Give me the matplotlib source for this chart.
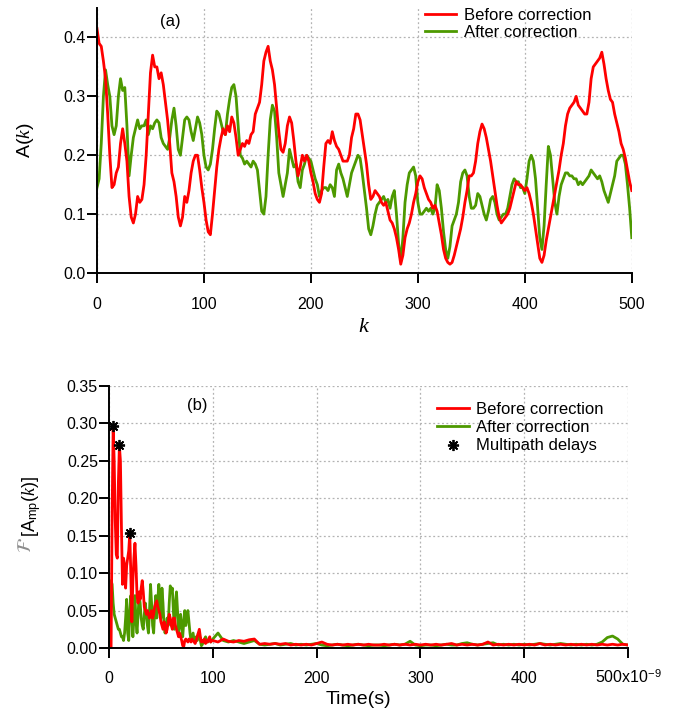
import numpy as np
from matplotlib import pyplot as plt
import matplotlib.ticker as mticker
from matplotlib.lines import Line2D

plt.rcParams['font.family'] = ['Liberation Sans', 'DejaVu Sans']
plt.rcParams['mathtext.fontset'] = 'custom'
plt.rcParams['mathtext.rm'] = 'Liberation Sans'
plt.rcParams['mathtext.sf'] = 'Liberation Sans'
plt.rcParams['mathtext.it'] = 'Liberation Serif:italic'

# DATA (a) : A(k), one value every 2 samples of k, k = 0 .. 500
before_a = [
    0.415, 0.39, 0.385, 0.36, 0.33, 0.27, 0.2, 0.145, 0.15, 0.17,
    0.18, 0.22, 0.245, 0.22, 0.19, 0.13, 0.095, 0.085, 0.1, 0.13,
    0.12, 0.125, 0.15, 0.2, 0.27, 0.34, 0.37, 0.35, 0.35, 0.33,
    0.34, 0.32, 0.29, 0.26, 0.22, 0.17, 0.155, 0.13, 0.095, 0.08,
    0.095, 0.13, 0.12, 0.14, 0.17, 0.19, 0.2, 0.2, 0.175, 0.145,
    0.12, 0.09, 0.07, 0.065, 0.1, 0.14, 0.18, 0.21, 0.23, 0.245,
    0.235, 0.25, 0.24, 0.265, 0.255, 0.23, 0.2, 0.21, 0.22, 0.215,
    0.225, 0.22, 0.235, 0.24, 0.27, 0.28, 0.29, 0.32, 0.36, 0.375,
    0.385, 0.36, 0.345, 0.32, 0.28, 0.24, 0.21, 0.205, 0.22, 0.25,
    0.265, 0.255, 0.225, 0.19, 0.165, 0.18, 0.2, 0.19, 0.2, 0.19,
    0.17, 0.155, 0.135, 0.125, 0.12, 0.135, 0.18, 0.22, 0.225, 0.22,
    0.24, 0.225, 0.215, 0.21, 0.2, 0.19, 0.19, 0.19, 0.2, 0.23,
    0.245, 0.27, 0.27, 0.26, 0.235, 0.21, 0.185, 0.15, 0.125, 0.13,
    0.14, 0.135, 0.13, 0.12, 0.115, 0.12, 0.105, 0.09, 0.085, 0.075,
    0.06, 0.04, 0.015, 0.03, 0.06, 0.075, 0.085, 0.1, 0.12, 0.135,
    0.155, 0.165, 0.16, 0.145, 0.135, 0.125, 0.12, 0.11, 0.115, 0.105,
    0.085, 0.065, 0.04, 0.025, 0.018, 0.015, 0.018, 0.03, 0.045, 0.06,
    0.075, 0.095, 0.12, 0.14, 0.165, 0.165, 0.17, 0.19, 0.22, 0.24,
    0.253, 0.245, 0.23, 0.21, 0.19, 0.165, 0.14, 0.115, 0.095, 0.085,
    0.09, 0.095, 0.1, 0.11, 0.125, 0.14, 0.155, 0.15, 0.15, 0.145,
    0.14, 0.145, 0.135, 0.12, 0.1, 0.075, 0.05, 0.025, 0.018, 0.03,
    0.055, 0.075, 0.095, 0.115, 0.135, 0.155, 0.175, 0.2, 0.22, 0.25,
    0.27, 0.28, 0.285, 0.29, 0.3, 0.285, 0.28, 0.275, 0.27, 0.27,
    0.29, 0.33, 0.35, 0.355, 0.36, 0.365, 0.375, 0.355, 0.33, 0.31,
    0.295, 0.29, 0.27, 0.255, 0.24, 0.22, 0.21, 0.195, 0.175, 0.155,
    0.14,
]
after_a = [
    0.145, 0.16, 0.22, 0.3, 0.345, 0.32, 0.3, 0.25, 0.235, 0.25,
    0.3, 0.33, 0.31, 0.315, 0.25, 0.165, 0.2, 0.23, 0.245, 0.26,
    0.245, 0.25, 0.25, 0.26, 0.235, 0.25, 0.245, 0.255, 0.26, 0.255,
    0.23, 0.22, 0.215, 0.21, 0.23, 0.26, 0.28, 0.25, 0.21, 0.2,
    0.23, 0.26, 0.265, 0.26, 0.24, 0.225, 0.245, 0.265, 0.255, 0.235,
    0.2, 0.18, 0.175, 0.185, 0.21, 0.245, 0.275, 0.27, 0.255, 0.24,
    0.235, 0.27, 0.295, 0.315, 0.32, 0.3, 0.25, 0.2, 0.195, 0.185,
    0.19, 0.185, 0.18, 0.19, 0.185, 0.175, 0.14, 0.105, 0.1, 0.13,
    0.2, 0.26, 0.285, 0.275, 0.23, 0.17, 0.15, 0.13, 0.15, 0.17,
    0.21, 0.195, 0.18, 0.185, 0.155, 0.145, 0.175, 0.185, 0.2, 0.195,
    0.19, 0.175, 0.16, 0.15, 0.13, 0.14, 0.145, 0.145, 0.14, 0.15,
    0.145, 0.13, 0.175, 0.185, 0.17, 0.16, 0.145, 0.13, 0.15, 0.17,
    0.18, 0.19, 0.2, 0.195, 0.17, 0.14, 0.11, 0.075, 0.065, 0.08,
    0.1, 0.115, 0.12, 0.125, 0.13, 0.12, 0.125, 0.11, 0.13, 0.14,
    0.1, 0.05, 0.02, 0.06, 0.12, 0.15, 0.17, 0.175, 0.18, 0.165,
    0.12, 0.1, 0.1, 0.105, 0.11, 0.105, 0.11, 0.1, 0.11, 0.15,
    0.14, 0.11, 0.07, 0.04, 0.025, 0.045, 0.08, 0.09, 0.1, 0.12,
    0.155, 0.17, 0.175, 0.165, 0.13, 0.11, 0.11, 0.115, 0.135, 0.13,
    0.115, 0.1, 0.09, 0.105, 0.125, 0.13, 0.12, 0.1, 0.09, 0.095,
    0.1, 0.1, 0.11, 0.13, 0.15, 0.16, 0.155, 0.155, 0.145, 0.145,
    0.135, 0.16, 0.19, 0.2, 0.19, 0.16, 0.11, 0.06, 0.04, 0.08,
    0.15, 0.215, 0.2, 0.16, 0.12, 0.1, 0.13, 0.15, 0.16, 0.17,
    0.17, 0.165, 0.165, 0.16, 0.16, 0.15, 0.155, 0.15, 0.155, 0.16,
    0.165, 0.175, 0.17, 0.165, 0.16, 0.165, 0.155, 0.14, 0.13, 0.12,
    0.135, 0.15, 0.165, 0.19, 0.195, 0.2, 0.2, 0.185, 0.15, 0.11,
    0.06,
]

# DATA (b) : spectrum, 1 ns steps up to 99 ns, then 5 ns steps 100 .. 500 ns
before_b_head = [
    0.0, 0.0, 0.0, 0.18, 0.295, 0.25, 0.17, 0.125, 0.12, 0.22,
    0.27, 0.25, 0.16, 0.085, 0.12, 0.11, 0.08, 0.11, 0.12, 0.13,
    0.153, 0.1, 0.035, 0.09, 0.12, 0.14, 0.11, 0.07, 0.06, 0.075,
    0.065, 0.08, 0.09, 0.075, 0.055, 0.05, 0.045, 0.05, 0.045, 0.04,
    0.045, 0.05, 0.04, 0.045, 0.055, 0.06, 0.063, 0.055, 0.05, 0.045,
    0.035, 0.03, 0.025, 0.035, 0.03, 0.02, 0.025, 0.035, 0.045, 0.04,
    0.03, 0.025, 0.04, 0.04, 0.03, 0.025, 0.02, 0.015, 0.02, 0.015,
    0.01, 0.003, 0.002, 0.01, 0.012, 0.01, 0.008, 0.012, 0.01, 0.008,
    0.012, 0.01, 0.008, 0.006, 0.01, 0.015, 0.02, 0.025, 0.015, 0.008,
    0.01, 0.008, 0.012, 0.006, 0.01, 0.008, 0.012, 0.015, 0.008, 0.01,
]
after_b_head = [
    0.0, 0.0, 0.09, 0.085, 0.06, 0.045, 0.04, 0.035, 0.03, 0.025,
    0.025, 0.02, 0.015, 0.015, 0.01, 0.02, 0.04, 0.065, 0.02, 0.01,
    0.05, 0.07, 0.04, 0.015, 0.04, 0.07, 0.035, 0.02, 0.045, 0.07,
    0.06, 0.04, 0.03, 0.025, 0.045, 0.06, 0.045, 0.03, 0.02, 0.05,
    0.085, 0.06, 0.03, 0.02, 0.05, 0.07, 0.04, 0.065, 0.085, 0.06,
    0.04, 0.08, 0.06, 0.03, 0.02, 0.03, 0.04, 0.03, 0.06, 0.083,
    0.075, 0.08, 0.05, 0.025, 0.06, 0.075, 0.05, 0.02, 0.03, 0.045,
    0.03, 0.015, 0.035, 0.05, 0.03, 0.04, 0.05, 0.035, 0.02, 0.01,
    0.015, 0.02, 0.01, 0.012, 0.015, 0.01, 0.02, 0.018, 0.01, 0.003,
    0.005, 0.01, 0.012, 0.015, 0.01, 0.008, 0.01, 0.012, 0.008, 0.01,
]
before_b_tail = [
    0.01, 0.008, 0.012, 0.009, 0.008, 0.01, 0.009, 0.011, 0.012, 0.005,
    0.006, 0.005, 0.006, 0.005, 0.006, 0.004, 0.005, 0.004, 0.005, 0.004,
    0.006, 0.008, 0.005, 0.004, 0.005, 0.004, 0.005, 0.004, 0.005, 0.004,
    0.005, 0.004, 0.004, 0.005, 0.004, 0.005, 0.004, 0.005, 0.004, 0.005,
    0.004, 0.005, 0.004, 0.005, 0.004, 0.005, 0.006, 0.004, 0.005, 0.004,
    0.005, 0.004, 0.005, 0.008, 0.004, 0.005, 0.004, 0.005, 0.004, 0.005,
    0.004, 0.005, 0.004, 0.006, 0.004, 0.005, 0.004, 0.005, 0.004, 0.005,
    0.004, 0.005, 0.004, 0.005, 0.004, 0.005, 0.004, 0.005, 0.004, 0.005,
    0.004,
]
after_b_tail = [
    0.012, 0.02, 0.01, 0.008, 0.01, 0.008, 0.006, 0.008, 0.01, 0.005,
    0.004, 0.005, 0.006, 0.004, 0.005, 0.006, 0.004, 0.005, 0.004, 0.005,
    0.006, 0.004, 0.003, 0.004, 0.005, 0.004, 0.003, 0.004, 0.005, 0.004,
    0.003, 0.004, 0.004, 0.003, 0.004, 0.005, 0.004, 0.005, 0.009, 0.004,
    0.003, 0.004, 0.004, 0.003, 0.004, 0.005, 0.004, 0.004, 0.006, 0.007,
    0.005, 0.004, 0.005, 0.006, 0.007, 0.004, 0.005, 0.004, 0.005, 0.004,
    0.005, 0.004, 0.005, 0.006, 0.005, 0.004, 0.005, 0.006, 0.005, 0.004,
    0.005, 0.004, 0.005, 0.004, 0.005, 0.008, 0.014, 0.016, 0.012, 0.005,
    0.004,
]
delay_t = [4, 10, 20]
delay_v = [0.296, 0.271, 0.153]

x_ticks = [0, 100, 200, 300, 400, 500]
x_labels_b = ['0', '100', '200', '300', '400', r'500x10$^{\mathrm{-9}}$']

RED = '#ff0000'
GREEN = '#4d9900'
STAR = (8, 2, 0)


def style(ax):
    for s in ('top', 'right'):
        ax.spines[s].set_visible(False)
    for s in ('left', 'bottom'):
        ax.spines[s].set_linewidth(1.4)
    ax.tick_params(direction='out', length=7.5, width=1.4, labelsize=11.5)
    ax.tick_params(axis='x', pad=10)
    ax.tick_params(axis='y', pad=0.5)
    ax.grid(True, color='#b3b3b3', linestyle=(0, (1.5, 2)), linewidth=0.9)
    ax.set_axisbelow(True)


fig = plt.figure(figsize=(6.83, 7.11), dpi=100)

# PANEL (a)
ax1 = fig.add_axes([0.142, 0.616, 0.783, 0.3727])
ax1.plot(2 * np.arange(len(after_a)), after_a, color=GREEN, lw=2.0,
         label='After correction')
ax1.plot(2 * np.arange(len(before_a)), before_a, color=RED, lw=2.0,
         label='Before correction')
ax1.set_xlim(0, 500)
ax1.set_ylim(0, 0.45)
ax1.set_xticks(x_ticks)
ax1.yaxis.set_major_locator(mticker.MultipleLocator(0.1))
ax1.yaxis.set_major_formatter(mticker.FormatStrFormatter('%.1f'))
style(ax1)
ax1.text(-0.134, 0.5, r'A($k$)', transform=ax1.transAxes, rotation=90,
         ha='center', va='center', fontsize=14)
ax1.text(0.499, -0.2, r'$k$', transform=ax1.transAxes,
         ha='center', va='center', fontsize=16)
ax1.text(69, 0.427, '(a)', ha='center', va='center', fontsize=12)
h1, l1 = ax1.get_legend_handles_labels()
ax1.legend(h1[::-1], l1[::-1], loc='upper left', bbox_to_anchor=(0.613, 1.0),
           frameon=False, fontsize=12, handlelength=1.9, handletextpad=0.45,
           labelspacing=0.12, borderaxespad=0, borderpad=0)

# PANEL (b)
ax2 = fig.add_axes([0.1596, 0.0886, 0.76, 0.3685])
ax2.plot(np.concatenate([np.arange(len(after_b_head)),
                         100 + 5 * np.arange(len(after_b_tail))]),
         after_b_head + after_b_tail, color=GREEN, lw=2.0)
ax2.plot(np.concatenate([np.arange(len(before_b_head)),
                         100 + 5 * np.arange(len(before_b_tail))]),
         before_b_head + before_b_tail, color=RED, lw=2.0)
ax2.plot(delay_t, delay_v, linestyle='none', marker=STAR,
         markersize=8, markeredgewidth=1.3, color='black', zorder=5)
ax2.set_xlim(0, 500)
ax2.set_ylim(0, 0.35)
ax2.set_xticks(x_ticks)
ax2.set_xticklabels(x_labels_b, va='baseline')
ax2.yaxis.set_major_locator(mticker.MultipleLocator(0.05))
ax2.yaxis.set_major_formatter(mticker.FormatStrFormatter('%.2f'))
style(ax2)
ax2.tick_params(axis='x', pad=17.5)
ax2.text(0.481, -0.195, 'Time(s)', transform=ax2.transAxes,
         ha='center', va='center', fontsize=14)
# y label: grey script F followed by the black part
ax2.text(-0.158, 0.424, r'$\mathcal{F}$', transform=ax2.transAxes,
         rotation=90, ha='center', va='top', fontsize=14, color='#8c8c8c',
         math_fontfamily='stix')
ax2.text(-0.150, 0.424, r'[A$_{\mathrm{mp}}$($k$)]', transform=ax2.transAxes,
         rotation=90, ha='center', va='bottom', fontsize=13)
ax2.text(84.8, 0.3246, '(b)', ha='center', va='center', fontsize=12)
handles = [Line2D([], [], color=RED, lw=2.0),
           Line2D([], [], color=GREEN, lw=2.0),
           Line2D([], [], linestyle='none', marker=STAR, markersize=8,
                  markeredgewidth=1.3, color='black')]
ax2.legend(handles, ['Before correction', 'After correction', 'Multipath delays'],
           loc='upper left', bbox_to_anchor=(0.632, 0.94), frameon=False,
           fontsize=12, handlelength=1.9, handletextpad=0.45,
           labelspacing=0.2, borderaxespad=0, borderpad=0)

fig.savefig('out.png', dpi=100)
